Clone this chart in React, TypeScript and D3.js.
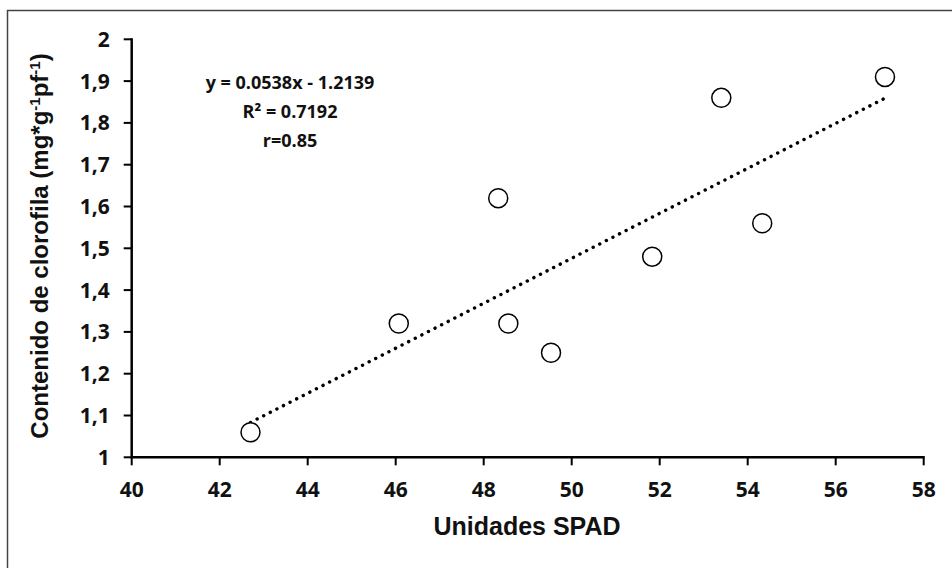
import React from "react";
import * as d3 from "d3";

const spad = [42.7, 46.07, 48.33, 48.56, 49.53, 51.83, 53.4, 54.33, 57.12];
const clorofila = [1.06, 1.32, 1.62, 1.32, 1.25, 1.48, 1.86, 1.56, 1.91];
const xTicks = [40, 42, 44, 46, 48, 50, 52, 54, 56, 58];
const yTicks = [1, 1.1, 1.2, 1.3, 1.4, 1.5, 1.6, 1.7, 1.8, 1.9, 2];
const slope = 0.0538;
const intercept = -1.2139;
const eqLines = ["y = 0.0538x - 1.2139", "R² = 0.7192", "r=0.85"];

const W = 952;
const H = 568;
const left = 131.7;
const right = 923.7;
const top = 39.3;
const bottom = 457.3;

export default function App() {
  const x = d3.scaleLinear().domain([40, 58]).range([left, right]);
  const y = d3.scaleLinear().domain([1, 2]).range([bottom, top]);
  const xmin = d3.min(spad) as number;
  const xmax = d3.max(spad) as number;
  const line = d3
    .line<number>()
    .x((d) => x(d))
    .y((d) => y(slope * d + intercept));
  const tickFont = "'Open Sans', sans-serif";
  const titleFont = "'Liberation Sans', Arial, sans-serif";
  const fmtY = (v: number) => (v === 1 || v === 2 ? String(v) : v.toFixed(1).replace(".", ","));
  return (
    <svg
      width={W}
      height={H}
      style={{ position: "absolute", left: 0, top: 0, background: "#fff" }}
    >
      <rect x={7.5} y={10.5} width={1000} height={700} fill="#fff" stroke="#444" strokeWidth={1.5} />
      <line x1={left} x2={left} y1={top - 1} y2={bottom + 1} stroke="#000" strokeWidth={2.5} />
      <line x1={left - 1} x2={right + 1} y1={bottom} y2={bottom} stroke="#000" strokeWidth={2.5} />
      {yTicks.map((t) => (
        <g key={"y" + t}>
          <line x1={left - 8} x2={left} y1={y(t)} y2={y(t)} stroke="#000" strokeWidth={2} />
          <text
            x={left - 22}
            y={y(t)}
            dy="0.36em"
            textAnchor="end"
            fontFamily={tickFont}
            fontWeight="bold"
            fontSize={21}
            fill="#111"
          >
            {fmtY(t)}
          </text>
        </g>
      ))}
      {xTicks.map((t) => (
        <g key={"x" + t}>
          <line x1={x(t)} x2={x(t)} y1={bottom} y2={bottom + 8} stroke="#000" strokeWidth={2} />
          <text
            x={x(t)}
            y={497}
            textAnchor="middle"
            fontFamily={tickFont}
            fontWeight="bold"
            fontSize={21}
            fill="#111"
          >
            {t}
          </text>
        </g>
      ))}
      <path
        d={line([xmin, xmax]) || ""}
        fill="none"
        stroke="#000"
        strokeWidth={3.4}
        strokeLinecap="round"
        strokeDasharray="0.1 7.3"
      />
      {spad.map((v, i) => (
        <circle key={i} cx={x(v)} cy={y(clorofila[i])} r={9.5} fill="#fff" stroke="#000" strokeWidth={1.5} />
      ))}
      {eqLines.map((s, i) => (
        <text
          key={i}
          x={290}
          y={89 + i * 29}
          textAnchor="middle"
          fontFamily={tickFont}
          fontWeight="bold"
          fontSize={18}
          fill="#111"
        >
          {s}
        </text>
      ))}
      <text
        x={527}
        y={535}
        textAnchor="middle"
        fontFamily={titleFont}
        fontWeight="bold"
        fontSize={25}
        fill="#111"
      >
        Unidades SPAD
      </text>
      <text
        transform={`translate(48, 246) rotate(-90)`}
        textAnchor="middle"
        fontFamily={titleFont}
        fontWeight="bold"
        fontSize={24}
        fill="#111"
      >
        Contenido de clorofila (mg*g
        <tspan dy={-8} fontSize={15}>-1</tspan>
        <tspan dy={8}>pf</tspan>
        <tspan dy={-8} fontSize={15}>-1</tspan>
        <tspan dy={8}>)</tspan>
      </text>
    </svg>
  );
}
